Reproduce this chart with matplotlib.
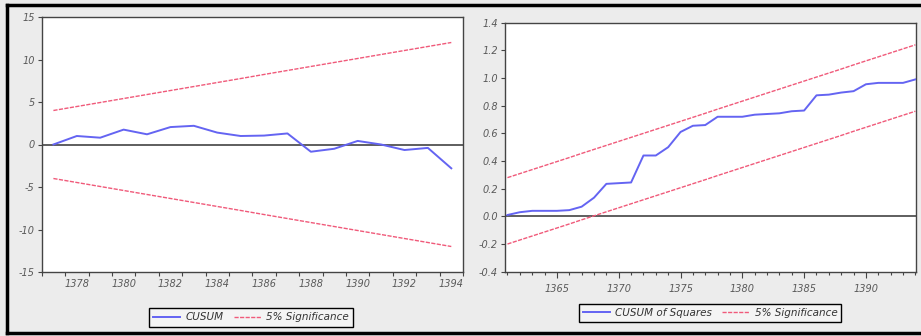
import matplotlib
matplotlib.use("Agg")
import matplotlib.pyplot as plt
from matplotlib.lines import Line2D

# ---------------- data ----------------
cusum_years = list(range(1377, 1395))
cusum = [0.0, 1.0, 0.8, 1.75, 1.2, 2.05, 2.2, 1.4, 1.0, 1.05, 1.3, -0.85,
         -0.5, 0.42, 0.0, -0.65, -0.4, -2.8]
cusum_upper = [4.00, 4.47, 4.94, 5.41, 5.88, 6.35, 6.82, 7.29, 7.76, 8.24,
               8.71, 9.18, 9.65, 10.12, 10.59, 11.06, 11.53, 12.00]
cusum_lower = [-v for v in cusum_upper]
cusum_xlabels = [1378, 1380, 1382, 1384, 1386, 1388, 1390, 1392, 1394]
cusum_yticks = [-15, -10, -5, 0, 5, 10, 15]

sq_years = list(range(1361, 1395))
cusumsq = [0.01, 0.03, 0.04, 0.04, 0.04, 0.045, 0.07, 0.135, 0.235, 0.24,
           0.245, 0.44, 0.44, 0.50, 0.61, 0.655, 0.66, 0.72, 0.72, 0.72,
           0.735, 0.74, 0.745, 0.76, 0.765, 0.875, 0.88, 0.895, 0.905, 0.955,
           0.965, 0.965, 0.965, 0.99]
sq_upper = [0.280, 0.309, 0.338, 0.367, 0.396, 0.425, 0.455, 0.484, 0.513,
            0.542, 0.571, 0.600, 0.629, 0.658, 0.687, 0.716, 0.745, 0.775,
            0.804, 0.833, 0.862, 0.891, 0.920, 0.949, 0.978, 1.007, 1.036,
            1.065, 1.095, 1.124, 1.153, 1.182, 1.211, 1.240]
sq_lower = [-0.200, -0.171, -0.142, -0.113, -0.084, -0.055, -0.025, 0.004,
            0.033, 0.062, 0.091, 0.120, 0.149, 0.178, 0.207, 0.236, 0.265,
            0.295, 0.324, 0.353, 0.382, 0.411, 0.440, 0.469, 0.498, 0.527,
            0.556, 0.585, 0.615, 0.644, 0.673, 0.702, 0.731, 0.760]
sq_xlabels = [1365, 1370, 1375, 1380, 1385, 1390]
sq_yticks = [-0.4, -0.2, 0.0, 0.2, 0.4, 0.6, 0.8, 1.0, 1.2, 1.4]

# ---------------- style ----------------
BLUE = "#6464f2"
RED = "#f05a7a"
TICKC = "#5a5a5a"
FS = 7

fig = plt.figure(figsize=(9.21, 3.36), dpi=100)
fig.patch.set_facecolor("#ececec")

W, H = 921, 336


def pos(l, r, t, b):
    return [l / W, 1 - b / H, (r - l) / W, (b - t) / H]


def style_axes(ax):
    for s in ax.spines.values():
        s.set_color("#444444")
        s.set_linewidth(1.0)
    ax.tick_params(colors="#444444", labelcolor=TICKC, labelsize=FS,
                   direction="out", length=3, width=0.8, pad=2)
    for lab in ax.get_xticklabels(which="both") + ax.get_yticklabels():
        lab.set_fontstyle("italic")


def make_legend(ax, handles, labels, cx, cy):
    leg = ax.legend(handles, labels, ncol=2, loc="center",
                    bbox_to_anchor=(cx / W, 1 - cy / H),
                    bbox_transform=fig.transFigure, fancybox=False,
                    edgecolor="black", framealpha=1, facecolor="#f4f4f4",
                    prop={"style": "italic", "size": FS + 0.5},
                    handlelength=2.6, columnspacing=1.0, borderpad=0.4,
                    handletextpad=0.5)
    leg.get_frame().set_linewidth(1.0)
    for t in leg.get_texts():
        t.set_color("#333333")
    return leg


# ---------------- left: CUSUM ----------------
ax1 = fig.add_axes(pos(41.7, 463, 17, 272))
ax1.set_facecolor("white")
ax1.axhline(0, color="#333333", lw=1.1, zorder=1)
l1, = ax1.plot(cusum_years, cusum, color=BLUE, lw=1.4, zorder=3)
l2, = ax1.plot(cusum_years, cusum_upper, color=RED, lw=1.0,
               ls=(0, (3, 1)), zorder=2)
ax1.plot(cusum_years, cusum_lower, color=RED, lw=1.0, ls=(0, (3, 1)), zorder=2)
ax1.set_xlim(cusum_years[0] - 0.5, cusum_years[-1] + 0.5)
ax1.set_ylim(-15, 15)
ax1.set_yticks(cusum_yticks)
ax1.set_yticklabels([str(v) for v in cusum_yticks])
ax1.set_xticks([y + 0.5 for y in range(cusum_years[0] - 1, cusum_years[-1] + 1)])
ax1.set_xticklabels([])
ax1.set_xticks(cusum_xlabels, minor=True)
ax1.set_xticklabels([str(v) for v in cusum_xlabels], minor=True)
style_axes(ax1)
ax1.tick_params(axis="x", which="minor", length=0, pad=5)
for lab in ax1.get_xticklabels(minor=True):
    lab.set_fontstyle("italic")
    lab.set_fontsize(FS)
    lab.set_color(TICKC)

make_legend(ax1, [l1, l2], ["CUSUM", "5% Significance"], 251, 317.5)

# ---------------- right: CUSUM of Squares ----------------
ax2 = fig.add_axes(pos(505, 916, 22.7, 271.7))
ax2.set_facecolor("white")
ax2.axhline(0, color="#333333", lw=1.1, zorder=1)
m1, = ax2.plot(sq_years, cusumsq, color=BLUE, lw=1.4, zorder=3)
m2, = ax2.plot(sq_years, sq_upper, color=RED, lw=1.0, ls=(0, (3, 1)), zorder=2)
ax2.plot(sq_years, sq_lower, color=RED, lw=1.0, ls=(0, (3, 1)), zorder=2)
ax2.set_xlim(sq_years[0] - 0.2, sq_years[-1] + 0.05)
ax2.set_ylim(-0.4, 1.4)
ax2.set_yticks(sq_yticks)
ax2.set_yticklabels([f"{v:.1f}" for v in sq_yticks])
ax2.set_xticks(sq_xlabels)
ax2.set_xticklabels([str(v) for v in sq_xlabels])
ax2.set_xticks(sq_years, minor=True)
style_axes(ax2)
ax2.tick_params(axis="x", which="major", length=4, pad=5)
ax2.tick_params(axis="x", which="minor", length=2.5, width=0.8,
                color="#444444", direction="out")

make_legend(ax2, [m1, m2], ["CUSUM of Squares", "5% Significance"], 710, 313)

# ---------------- outer frame ----------------
fig.add_artist(Line2D([7 / W, 7 / W], [1 - 5 / H, 1 - 333 / H],
                      transform=fig.transFigure, color="black", lw=2.5))
fig.add_artist(Line2D([7 / W, 1.0], [1 - 5 / H, 1 - 5 / H],
                      transform=fig.transFigure, color="black", lw=2.5))
fig.add_artist(Line2D([7 / W, 1.0], [1 - 333 / H, 1 - 333 / H],
                      transform=fig.transFigure, color="black", lw=2.5))

fig.savefig("out.png", dpi=100, facecolor=fig.get_facecolor())
